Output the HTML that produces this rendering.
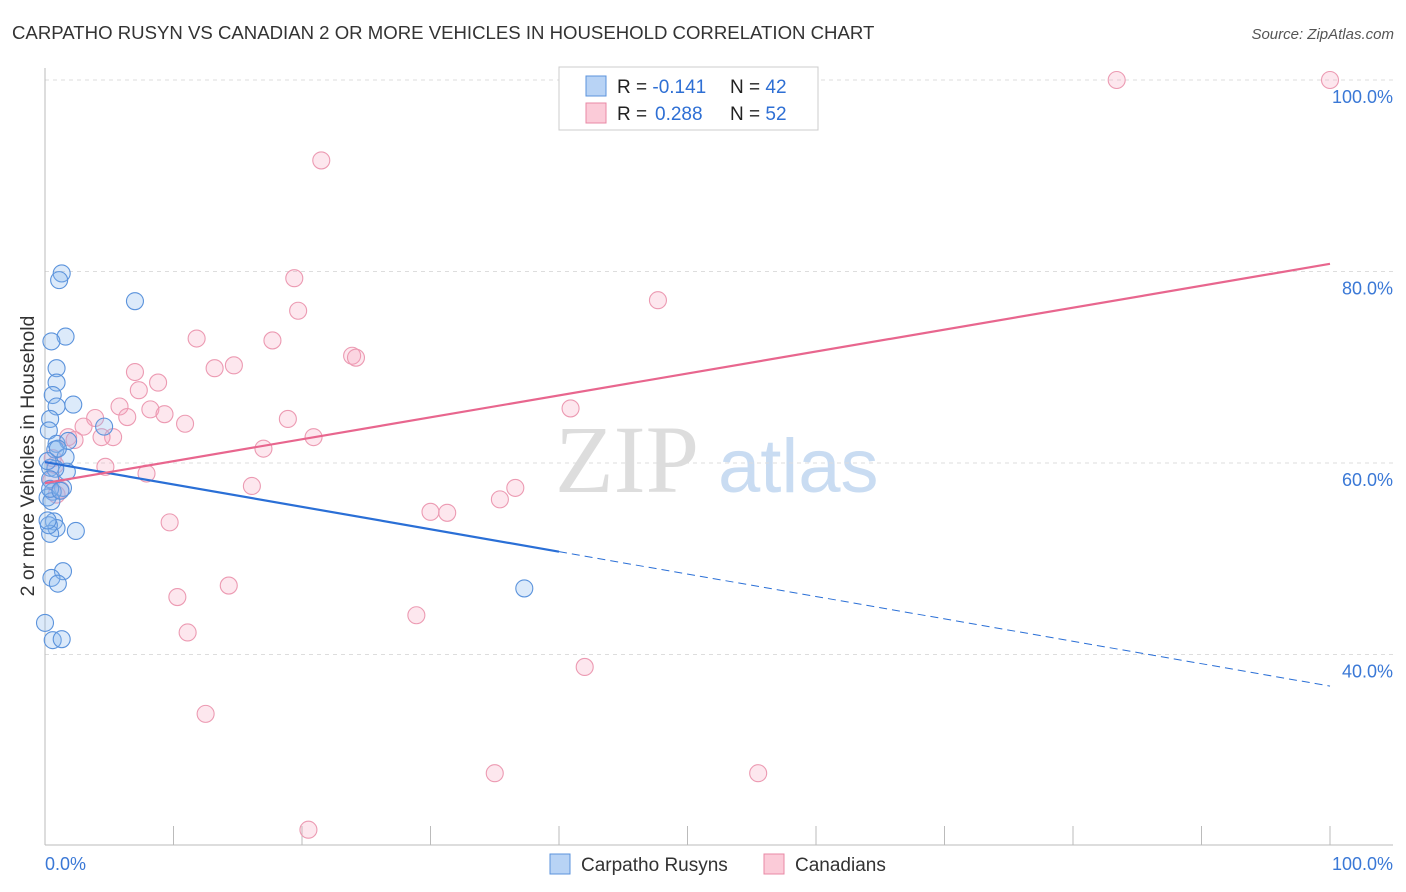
<!DOCTYPE html>
<html><head><meta charset="utf-8"><style>
body{margin:0;background:#fff;font-family:"Liberation Sans",sans-serif}
svg{display:block}
</style></head><body>
<svg id="c" width="1406" height="892">
<text x="12" y="39" font-size="18.6" fill="#333">CARPATHO RUSYN VS CANADIAN 2 OR MORE VEHICLES IN HOUSEHOLD CORRELATION CHART</text>
<text x="1394" y="39" font-size="15" fill="#555" font-style="italic" text-anchor="end">Source: ZipAtlas.com</text>
<text x="34" y="456" font-size="19.5" fill="#333" text-anchor="middle" transform="rotate(-90 34 456)">2 or more Vehicles in Household</text>
<text x="555" y="492" font-size="96" fill="#ddd" font-family="Liberation Serif,serif">ZIP</text>
<text x="718" y="492" font-size="76" fill="#c9dcf2">atlas</text>
<g id="grid"></g><g id="pts"></g><g id="lines"></g>
<g>
<rect x="559" y="67" width="259" height="63" fill="#fff" stroke="#ccc"/>
<rect x="586" y="76" width="20" height="20" fill="#b8d3f5" stroke="#5b93dc"/>
<rect x="586" y="103" width="20" height="20" fill="#fbcbd8" stroke="#e888a6"/>
<text x="617" y="93" font-size="19" fill="#222">R = <tspan fill="#2e6fd4">-0.141</tspan><tspan x="730">N = </tspan><tspan fill="#2e6fd4">42</tspan></text>
<text x="617" y="120" font-size="19" fill="#222">R = <tspan x="655" fill="#2e6fd4">0.288</tspan><tspan x="730">N = </tspan><tspan fill="#2e6fd4">52</tspan></text>
</g>
<g>
<rect x="550" y="854" width="20" height="20" fill="#b8d3f5" stroke="#5b93dc"/>
<text x="581" y="871" font-size="19" fill="#333">Carpatho Rusyns</text>
<rect x="764" y="854" width="20" height="20" fill="#fbcbd8" stroke="#e888a6"/>
<text x="795" y="871" font-size="19" fill="#333">Canadians</text>
</g>
</svg>
<script>
const blueX=[1.3,1.1,7.0,1.6,0.5,0.9,0.9,0.6,2.2,0.9,0.4,0.3,4.6,0.9,1.8,0.8,1.6,0.4,1.7,0.8,0.4,1.4,0.6,0.2,0.5,0.7,0.9,2.4,0.4,0.3,1.4,0.5,1.0,0.0,0.6,1.3,37.3,0.2,0.2,1.0,0.4,1.2];
const blueY=[79.8,79.1,76.9,73.2,72.7,69.9,68.4,67.1,66.1,65.9,64.6,63.4,63.8,62.0,62.3,61.4,60.6,59.5,59.1,59.4,58.3,57.4,57.0,56.4,56.0,53.9,53.2,52.9,52.6,53.5,48.7,48.0,47.4,43.3,41.5,41.6,46.9,54.0,60.2,61.5,57.3,57.1];
const pinkX=[83.4,100,21.5,19.4,47.7,19.7,11.8,17.7,23.9,24.2,14.7,13.2,7.0,8.8,7.3,5.8,8.2,9.3,40.9,3.9,18.9,6.4,10.9,3.0,5.3,4.4,1.8,2.3,20.9,17.0,4.7,7.9,1.2,16.1,36.6,35.4,30.0,31.3,9.7,14.3,10.3,28.9,11.1,42.0,12.5,35.0,55.5,20.5,0.6,0.8,0.9,0.5];
const pinkY=[100,100,91.6,79.3,77.0,75.9,73.0,72.8,71.2,71.0,70.2,69.9,69.5,68.4,67.6,65.9,65.6,65.1,65.7,64.7,64.6,64.8,64.1,63.8,62.7,62.7,62.7,62.4,62.7,61.5,59.6,58.9,57.2,57.6,57.4,56.2,54.9,54.8,53.8,47.2,46.0,44.1,42.3,38.7,33.8,27.6,27.6,21.7,60.5,59.8,56.7,58.2];
const yTicks=[100,80,60,40];
const blueTrend=[60.1,36.7];
const pinkTrend=[57.9,80.8];
const sx=v=>45+v*12.85, sy=v=>1037.5-v*9.575;
const NS="http://www.w3.org/2000/svg";
function mk(tag,attrs,parent){const e=document.createElementNS(NS,tag);for(const k in attrs)e.setAttribute(k,attrs[k]);parent.appendChild(e);return e;}
const g=document.getElementById('grid');
yTicks.forEach(t=>{
 const l=mk('line',{x1:45,x2:1393,y1:sy(t),y2:sy(t),stroke:'#ddd','stroke-dasharray':'4,4'},g);
 
 
 const tx=mk('text',{x:1393,y:sy(t)+23,'font-size':18,fill:'#3a78d6','text-anchor':'end'},g);
 tx.textContent=t.toFixed(1)+'%';
 
 
});
mk('line',{x1:45,x2:45,y1:68,y2:845,stroke:'#bbb'},g);
mk('line',{x1:45,x2:1393,y1:845,y2:845,stroke:'#bbb'},g);
for(let i=1;i<=10;i++){mk('line',{x1:sx(i*10),x2:sx(i*10),y1:826,y2:845,stroke:'#bbb'},g);}
const x0=mk('text',{x:45,y:870,'font-size':18,fill:'#3a78d6'},g);x0.textContent='0.0%';


const x1=mk('text',{x:1393,y:870,'font-size':18,fill:'#3a78d6','text-anchor':'end'},g);x1.textContent='100.0%';


const p=document.getElementById('pts');
pinkX.forEach((x,i)=>{const c=mk('circle',{cx:sx(x),cy:sy(pinkY[i]),r:8.5,fill:'rgba(246,160,186,0.25)',stroke:'#ec9ab2','stroke-width':1.1},p);
 
 });
blueX.forEach((x,i)=>{const c=mk('circle',{cx:sx(x),cy:sy(blueY[i]),r:8.5,fill:'rgba(140,185,240,0.3)',stroke:'#5b93dc','stroke-width':1.1},p);
 
 });
const L=document.getElementById('lines');
const by=x=>blueTrend[0]+(blueTrend[1]-blueTrend[0])*x/100;
const bl=mk('line',{x1:sx(0),y1:sy(by(0)),x2:sx(40),y2:sy(by(40)),stroke:'#2a6fd6','stroke-width':2.2},L);


const bd=mk('line',{x1:sx(40),y1:sy(by(40)),x2:sx(100),y2:sy(by(100)),stroke:'#2a6fd6','stroke-width':1,'stroke-dasharray':'8,5'},L);


const pl=mk('line',{x1:sx(0),y1:sy(pinkTrend[0]),x2:sx(100),y2:sy(pinkTrend[1]),stroke:'#e8668e','stroke-width':2.2},L);


</script>
</body></html>
